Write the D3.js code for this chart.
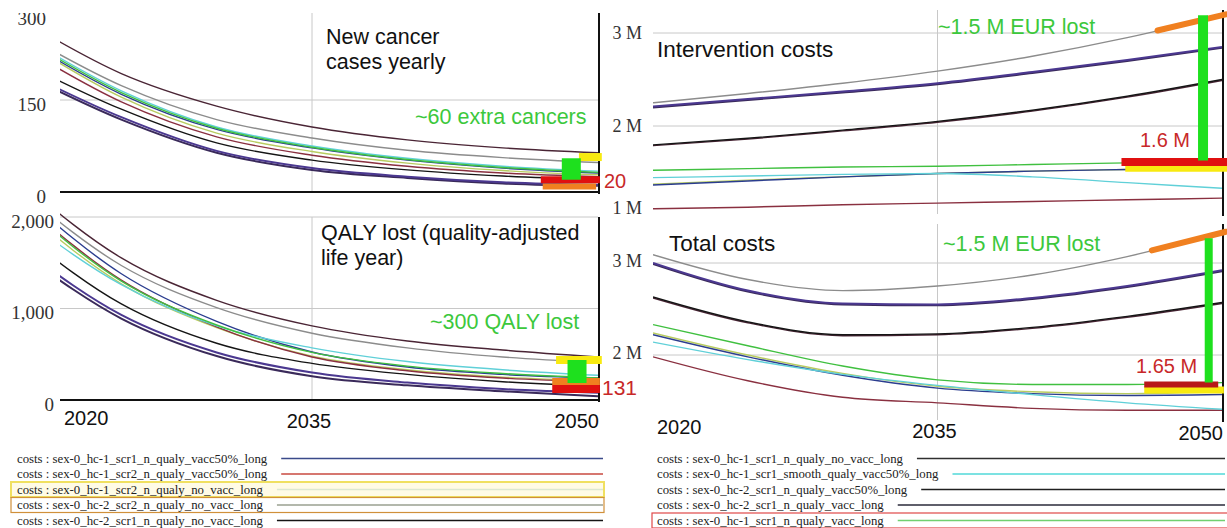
<!DOCTYPE html>
<html>
<head>
<meta charset="utf-8">
<script src="https://cdn.jsdelivr.net/npm/d3@7"></script>
<style>
body { margin: 0; background: #fff; }
svg { display: block; }
</style>
</head>
<body>
<div class="chart"></div>
<script>
// knots every 5 years
var years = [2020, 2025, 2030, 2035, 2040, 2045, 2050];

var seriesNames = [
    "costs : sex-0_hc-1_scr1_n_qualy_vacc50%_long",
    "costs : sex-0_hc-1_scr2_n_qualy_vacc50%_long",
    "costs : sex-0_hc-1_scr2_n_qualy_no_vacc_long",
    "costs : sex-0_hc-2_scr2_n_qualy_no_vacc_long",
    "costs : sex-0_hc-2_scr1_n_qualy_no_vacc_long",
    "costs : sex-0_hc-1_scr1_n_qualy_no_vacc_long",
    "costs : sex-0_hc-1_scr1_smooth_qualy_vacc50%_long",
    "costs : sex-0_hc-2_scr1_n_qualy_vacc50%_long",
    "costs : sex-0_hc-2_scr1_n_qualy_vacc_long",
    "costs : sex-0_hc-1_scr1_n_qualy_vacc_long"
];
var seriesColors = ["#2b3d8f", "#8a3040", "#b8cc60", "#8c8c8c", "#151515",
                    "#4a2535", "#60d0d8", "#3a2a5a", "#4b3890", "#40c040"];
var legendLineColors = ["#3a4a8a", "#c84a40", "#dde8d0", "#9aa090", "#151515",
                        "#303030", "#50d8d8", "#202020", "#2a2a3a", "#70d070"];
var legendBoxes = [null, null, "#f0e060", "#d0903a", null, null, null, null, null, "#e04848"];

var cancerCases = [
    [252, 160, 102, 72, 52, 39, 31],
    [238, 147, 90, 60, 42, 31, 25],
    [250, 155, 96, 66, 47, 35, 28],
    [262, 175, 118, 88, 68, 56, 48],
    [212, 135, 80, 52, 36, 26, 20],
    [285, 196, 140, 106, 85, 72, 64],
    [258, 166, 106, 75, 55, 42, 34],
    [193, 118, 64, 36, 23, 14, 10],
    [197, 122, 67, 39, 25, 16, 12],
    [255, 163, 104, 73, 53, 40, 32]
];
var qalyLost = [
    [2200, 1380, 860, 525, 360, 280, 240],
    [2120, 1310, 800, 470, 320, 240, 200],
    [2050, 1270, 790, 480, 330, 250, 210],
    [2240, 1470, 1010, 730, 570, 470, 410],
    [1780, 1050, 620, 400, 280, 200, 150],
    [2335, 1553, 1089, 810, 645, 546, 470],
    [1960, 1260, 810, 570, 420, 330, 270],
    [1570, 890, 480, 260, 160, 95, 40],
    [1620, 930, 520, 300, 190, 120, 80],
    [2100, 1300, 820, 520, 370, 290, 240]
];
// million EUR
var interventionCosts = [
    [1.28, 1.33, 1.38, 1.42, 1.45, 1.47, 1.49],
    [0.99, 1.01, 1.04, 1.06, 1.08, 1.10, 1.12],
    [1.29, 1.34, 1.38, 1.42, 1.45, 1.47, 1.49],
    [2.25, 2.35, 2.46, 2.59, 2.75, 2.95, 3.19],
    [1.77, 1.85, 1.95, 2.05, 2.17, 2.32, 2.50],
    [1.76, 1.84, 1.94, 2.04, 2.16, 2.31, 2.49],
    [1.37, 1.39, 1.41, 1.42, 1.38, 1.31, 1.24],
    [2.20, 2.28, 2.36, 2.45, 2.57, 2.70, 2.84],
    [2.21, 2.29, 2.37, 2.46, 2.58, 2.71, 2.85],
    [1.46, 1.48, 1.50, 1.51, 1.53, 1.55, 1.56]
];
var totalCosts = [
    [2.22, 1.98, 1.78, 1.64, 1.58, 1.56, 1.57],
    [1.98, 1.72, 1.54, 1.48, 1.42, 1.40, 1.40],
    [2.24, 2.00, 1.80, 1.66, 1.60, 1.58, 1.60],
    [3.09, 2.82, 2.70, 2.75, 2.87, 3.07, 3.33],
    [2.63, 2.36, 2.22, 2.23, 2.30, 2.42, 2.57],
    [2.62, 2.35, 2.21, 2.22, 2.29, 2.41, 2.56],
    [2.14, 1.95, 1.79, 1.67, 1.57, 1.48, 1.41],
    [2.99, 2.69, 2.55, 2.54, 2.61, 2.74, 2.91],
    [3.00, 2.70, 2.56, 2.55, 2.62, 2.75, 2.92],
    [2.33, 2.10, 1.88, 1.73, 1.68, 1.68, 1.70]
];

var cancerTicks = [0, 150, 300];
var qalyTicks = [0, 1000, 2000];
var intervTicks = [1, 2, 3];
var totalTicks = [2, 3];
var yearTicks = [2020, 2035, 2050];

// highlight bars drawn over the lines: [yearFrom, yearTo, value, colour, width]
var cancerMarks = [[2049.0, 2050.2, 57, "#f8ea10", 8], [2047.0, 2050.1, 20, "#e01010", 7], [2047.1, 2049.9, 9, "#f08020", 6]];
var qalyMarks = [[2047.8, 2050.2, 437, "#f8ea10", 8], [2047.6, 2050.1, 202, "#f08020", 7], [2047.6, 2050.1, 120, "#e01010", 8]];
var intervMarks = [[2044.9, 2050.3, 1.49, "#f8ea10", 8], [2044.7, 2050.3, 1.56, "#e01010", 8]];
var totalMarks = [[2045.9, 2050.1, 1.62, "#f8ea10", 7], [2045.9, 2049.8, 1.68, "#b81818", 6]];
// green "difference" bars: [year, valueFrom, valueTo]
var cancerGap = [2048.6, 55, 20];
var qalyGap = [2048.9, 437, 186];
var intervGap = [2049.0, 3.19, 1.58];
var totalGap = [2049.3, 3.27, 1.70];
// orange overlay along the top cost line: start year
var orangeFrom = [2046.6, 2046.3];

var W = 1227, H = 528;
var svg = d3.select(".chart").append("svg").attr("width", W).attr("height", H);

var xLeft = d3.scaleLinear().domain([2020, 2050]).range([26, 598]);
var xRight = d3.scaleLinear().domain([2020, 2050]).range([653, 1222]);
var yCancer = d3.scaleLinear().domain([0, 150, 300]).range([192, 100, 14]);
var yQaly = d3.scaleLinear().domain([0, 2000]).range([400, 217]);
var yInterv = d3.scaleLinear().domain([1, 2, 3]).range([208, 126, 33]);
var yTotal = d3.scaleLinear().domain([2, 3]).range([355, 263]);

var serif = "'Liberation Serif', 'DejaVu Serif', serif";
var sans = "'Liberation Sans', Arial, sans-serif";

var panels = [
    {id: "cancer", data: cancerCases, x: xLeft, y: yCancer, ticks: cancerTicks, fmt: d3.format(","), pad: 14, dy: 4, fs: 19,
     clip: [60, 13, 541, 181], top: 13, bottom: 192, grid: [150], axisLine: true, marks: cancerMarks, gap: cancerGap, gw: 19},
    {id: "qaly", data: qalyLost, x: xLeft, y: yQaly, ticks: qalyTicks, fmt: d3.format(","), pad: 6, dy: 4, fs: 19,
     clip: [60, 205, 541, 197], top: 217, bottom: 400, grid: [1000, 2000], axisLine: true, marks: qalyMarks, gap: qalyGap, gw: 19},
    {id: "interv", data: interventionCosts, x: xRight, y: yInterv, ticks: intervTicks, fmt: function(d) { return d + " M"; }, pad: 11, dy: 0, fs: 18,
     clip: [653, 8, 570, 207], top: 10, bottom: 214, grid: [2, 3], axisLine: false, marks: intervMarks, gap: intervGap, gw: 10},
    {id: "total", data: totalCosts, x: xRight, y: yTotal, ticks: totalTicks, fmt: function(d) { return d + " M"; }, pad: 11, dy: -2, fs: 18,
     clip: [653, 222, 570, 200], top: 224, bottom: 420, grid: [2, 3], axisLine: false, marks: totalMarks, gap: totalGap, gw: 8}
];

panels.forEach(function(p, k) {
    var g = svg.append("g");
    var x0 = p.x(2020) < 60 ? 60 : p.x(2020);
    var x1 = p.x(2050);

    // grid
    g.selectAll(".hgrid").data(p.grid).enter().append("line")
        .attr("x1", x0).attr("x2", x1)
        .attr("y1", function(d) { return p.y(d); }).attr("y2", function(d) { return p.y(d); })
        .attr("stroke", "#c8c8c8").attr("stroke-width", 1);
    g.append("line").attr("x1", p.x(2035)).attr("x2", p.x(2035))
        .attr("y1", p.top).attr("y2", p.bottom)
        .attr("stroke", "#c8c8c8").attr("stroke-width", 1);

    // y axis labels
    var axis = d3.axisLeft(p.y).tickValues(p.ticks).tickFormat(p.fmt).tickSize(0).tickPadding(p.pad);
    g.append("clipPath").attr("id", "aclip-" + p.id).append("rect")
        .attr("x", 0).attr("y", 13).attr("width", W).attr("height", H);
    var ax = g.append("g").attr("clip-path", "url(#aclip-" + p.id + ")")
        .append("g").attr("transform", "translate(" + x0 + "," + p.dy + ")").call(axis);
    ax.select(".domain").remove();
    ax.selectAll("text").attr("font-family", serif)
        .attr("font-size", p.fs).attr("fill", "#333");

    g.append("clipPath").attr("id", "clip-" + p.id).append("rect")
        .attr("x", p.clip[0]).attr("y", p.clip[1]).attr("width", p.clip[2]).attr("height", p.clip[3]);

    var line = d3.line()
        .x(function(d, i) { return p.x(years[i]); })
        .y(function(d) { return p.y(d); })
        .curve(d3.curveMonotoneX);

    var order = [2, 3, 5, 4, 1, 0, 6, 9, 7, 8];
    g.append("g").attr("clip-path", "url(#clip-" + p.id + ")")
        .selectAll("path").data(order).enter().append("path")
        .attr("d", function(i) { return line(p.data[i]); })
        .attr("fill", "none")
        .attr("stroke", function(i) { return seriesColors[i]; })
        .attr("stroke-width", function(i) { return (i == 7 || i == 8) ? 2 : 1.4; });

    // frame
    if (p.axisLine) {
        g.append("line").attr("x1", x0).attr("x2", x1 + 2).attr("y1", p.bottom).attr("y2", p.bottom)
            .attr("stroke", "#111").attr("stroke-width", 2);
    }
    g.append("line").attr("x1", x1 + 1).attr("x2", x1 + 1).attr("y1", p.top).attr("y2", p.bottom + 2)
        .attr("stroke", "#111").attr("stroke-width", 2);

    // orange overlay on the top (gray) cost line
    if (k >= 2) {
        var s = p.data[3], from = orangeFrom[k - 2];
        var seg = d3.line().x(function(d) { return p.x(d[0]); }).y(function(d) { return p.y(d[1]); });
        var pts = [[from, s[5] + (s[6] - s[5]) * (from - 2045) / 5], [2050.2, s[6] + 0.01]];
        g.append("path").attr("d", seg(pts)).attr("stroke", "#f08020").attr("stroke-width", 6)
            .attr("stroke-linecap", "round").attr("fill", "none");
    }

    // highlight marks
    g.selectAll(".mark").data(p.marks).enter().append("line")
        .attr("x1", function(d) { return p.x(d[0]); }).attr("x2", function(d) { return p.x(d[1]); })
        .attr("y1", function(d) { return p.y(d[2]); }).attr("y2", function(d) { return p.y(d[2]); })
        .attr("stroke", function(d) { return d[3]; }).attr("stroke-width", function(d) { return d[4]; });
    g.append("line")
        .attr("x1", p.x(p.gap[0])).attr("x2", p.x(p.gap[0]))
        .attr("y1", p.y(p.gap[1])).attr("y2", p.y(p.gap[2]))
        .attr("stroke", "#1ee01e").attr("stroke-width", p.gw);
});

var notes = [
    {t: "New cancer", x: 326, y: 44, c: "#111", s: 21.5},
    {t: "cases yearly", x: 326, y: 68.5, c: "#111", s: 21.5},
    {t: "~60 extra cancers", x: 415, y: 124, c: "#3cc83c", s: 21.5},
    {t: "20", x: 604, y: 188, c: "#c82828", s: 20},
    {t: "QALY lost (quality-adjusted", x: 321, y: 240, c: "#111", s: 21.5},
    {t: "life year)", x: 321, y: 264.5, c: "#111", s: 21.5},
    {t: "~300 QALY lost", x: 430, y: 329, c: "#3cc83c", s: 21.5},
    {t: "131", x: 602, y: 395, c: "#c82828", s: 21},
    {t: "Intervention costs", x: 657, y: 57, c: "#111", s: 22.5},
    {t: "~1.5 M EUR lost", x: 938, y: 34, c: "#3cc83c", s: 21.5},
    {t: "1.6 M", x: 1140, y: 147, c: "#c82828", s: 20},
    {t: "Total costs", x: 669, y: 251, c: "#111", s: 22.5},
    {t: "~1.5 M EUR lost", x: 943, y: 251, c: "#3cc83c", s: 21.5},
    {t: "1.65 M", x: 1136, y: 373, c: "#c82828", s: 20}
];
svg.selectAll(".note").data(notes).enter().append("text")
    .attr("x", function(d) { return d.x; }).attr("y", function(d) { return d.y; })
    .attr("fill", function(d) { return d.c; })
    .attr("font-family", sans).attr("font-size", function(d) { return d.s; })
    .text(function(d) { return d.t; });

// year labels under the bottom panels
[[xLeft, [425, 428, 428], 60], [xRight, [434, 438, 440], 653]].forEach(function(a) {
    svg.append("g").selectAll("text").data(yearTicks).enter().append("text")
        .attr("x", function(d) { return d == 2020 ? a[2] + 4 : a[0](d) + (d == 2050 ? 1 : -3); })
        .attr("y", function(d, i) { return a[1][i]; })
        .attr("text-anchor", function(d) { return d == 2020 ? "start" : (d == 2050 ? "end" : "middle"); })
        .attr("font-family", sans).attr("font-size", 20).attr("fill", "#111")
        .text(function(d) { return d; });
});

// legends
var legendRows = d3.range(10);
var rowY = function(i) { return 458.5 + (i % 5) * 15.5; };
var lg = svg.append("g");
lg.selectAll("rect").data(legendRows.filter(function(i) { return legendBoxes[i]; })).enter().append("rect")
    .attr("x", function(i) { return i < 5 ? 11 : 652; })
    .attr("y", function(i) { return rowY(i) - 7.5; })
    .attr("width", function(i) { return i < 5 ? 593 : 580; })
    .attr("height", 15)
    .attr("fill", function(i) { return i == 2 ? "#fffbe6" : "none"; })
    .attr("stroke", function(i) { return legendBoxes[i]; })
    .attr("stroke-width", function(i) { return i == 2 ? 2 : 1.2; });
var labels = lg.selectAll("text").data(legendRows).enter().append("text")
    .attr("x", function(i) { return i < 5 ? 17 : 657; })
    .attr("y", function(i) { return rowY(i) + 4; })
    .attr("font-family", serif).attr("font-size", 12.8).attr("fill", "#222")
    .text(function(i) { return seriesNames[i]; });
labels.each(function(i) {
    var x1 = (i < 5 ? 17 : 657) + this.getComputedTextLength() + 14;
    lg.append("line")
        .attr("x1", x1).attr("x2", i < 5 ? 603 : 1225)
        .attr("y1", rowY(i)).attr("y2", rowY(i))
        .attr("stroke", legendLineColors[i]).attr("stroke-width", 1.5);
});
</script>
</body>
</html>
